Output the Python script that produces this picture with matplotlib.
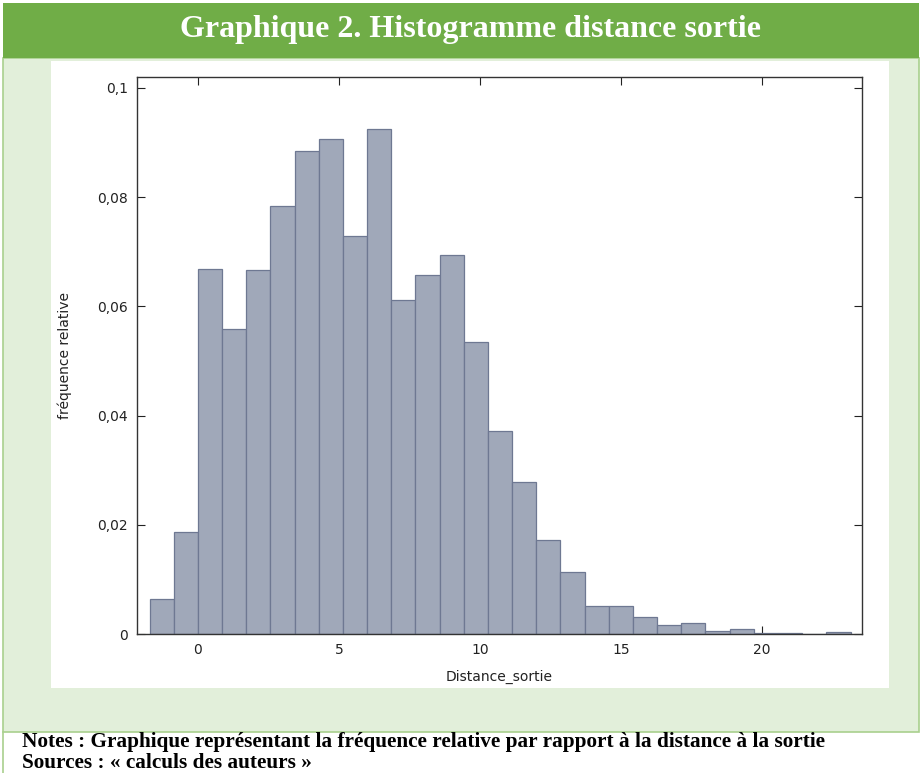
import matplotlib
matplotlib.use("Agg")
import matplotlib.pyplot as plt
from matplotlib.patches import Rectangle
from matplotlib.ticker import FuncFormatter
import numpy as np

# Histogram data (relative frequencies per bin)
bin_width = 6 / 7
first_bin = -2          # index of first bin, in units of bin_width
freq = [0.0064, 0.0187, 0.0669, 0.0559, 0.0667, 0.0784, 0.0885, 0.0906,
        0.0729, 0.0925, 0.0612, 0.0658, 0.0694, 0.0535, 0.0372, 0.0278,
        0.0173, 0.0114, 0.0051, 0.0051, 0.0032, 0.0016, 0.0021, 0.0006,
        0.0009, 0.0002, 0.0002, 0.0, 0.0003]
x_ticks = [0, 5, 10, 15, 20]
y_ticks = [0, 0.02, 0.04, 0.06, 0.08, 0.1]

title = "Graphique 2. Histogramme distance sortie"
notes = "Notes : Graphique représentant la fréquence relative par rapport à la distance à la sortie"
sources = "Sources : « calculs des auteurs »"

W, H = 922, 773


def fx(px):
    return px / W


def fy(py):
    return 1 - py / H


fig = plt.figure(figsize=(W / 100, H / 100), dpi=100)
fig.patch.set_facecolor("white")

# frame pieces (kept behind the axes)
fig.patches.append(Rectangle((fx(3), fy(732)), fx(916), 674 / H, transform=fig.transFigure,
                             facecolor="#E2EFDA", edgecolor="#A9D08E", lw=1.2, zorder=-3))
fig.patches.append(Rectangle((fx(3), fy(58)), fx(916), 55 / H, transform=fig.transFigure,
                             facecolor="#70AD47", edgecolor="none", zorder=-2))
fig.patches.append(Rectangle((fx(51), fy(688)), fx(838), 627 / H, transform=fig.transFigure,
                             facecolor="white", edgecolor="none", zorder=-2))
fig.lines.append(plt.Line2D([fx(3), fx(3)], [0, fy(732)], transform=fig.transFigure,
                            color="#A9D08E", lw=1.2, zorder=-2))

fig.text(fx(470), fy(29), title, color="white", fontsize=23, fontweight="bold",
         family="Liberation Serif", ha="center", va="center")
fig.text(fx(22), fy(742), notes, color="black", fontsize=15.3, fontweight="bold",
         family="Liberation Serif", ha="left", va="center")
fig.text(fx(22), fy(763), sources, color="black", fontsize=15.3, fontweight="bold",
         family="Liberation Serif", ha="left", va="center")

ax = fig.add_axes([fx(137), fy(634), (862 - 137) / W, (634 - 77) / H])
ax.set_facecolor("white")
lefts = (np.arange(len(freq)) + first_bin) * bin_width
ax.bar(lefts, freq, width=bin_width, align="edge", color="#A0A8B9",
       edgecolor="#6E7892", linewidth=0.9)

ax.set_xlim(-2.16, 23.55)
ax.set_ylim(0, 0.102)
ax.set_xticks(x_ticks)
ax.set_yticks(y_ticks)
ax.yaxis.set_major_formatter(FuncFormatter(lambda v, p: ("%g" % v).replace(".", ",")))
ax.tick_params(direction="in", length=5.8, width=0.8, labelsize=10, pad=6.5,
               top=True, right=True, colors="#222222")
ax.set_axisbelow(True)
for s in ax.spines.values():
    s.set_linewidth(1.0)
    s.set_color("#333333")

ax.set_xlabel("Distance_sortie", fontsize=10, color="#222222")
ax.set_ylabel("fréquence relative", fontsize=10, color="#222222")
ax.xaxis.set_label_coords(0.5, -0.065)
ax.yaxis.set_label_coords(-0.09, 0.5)

fig.savefig("out.png", dpi=100, facecolor="white")
